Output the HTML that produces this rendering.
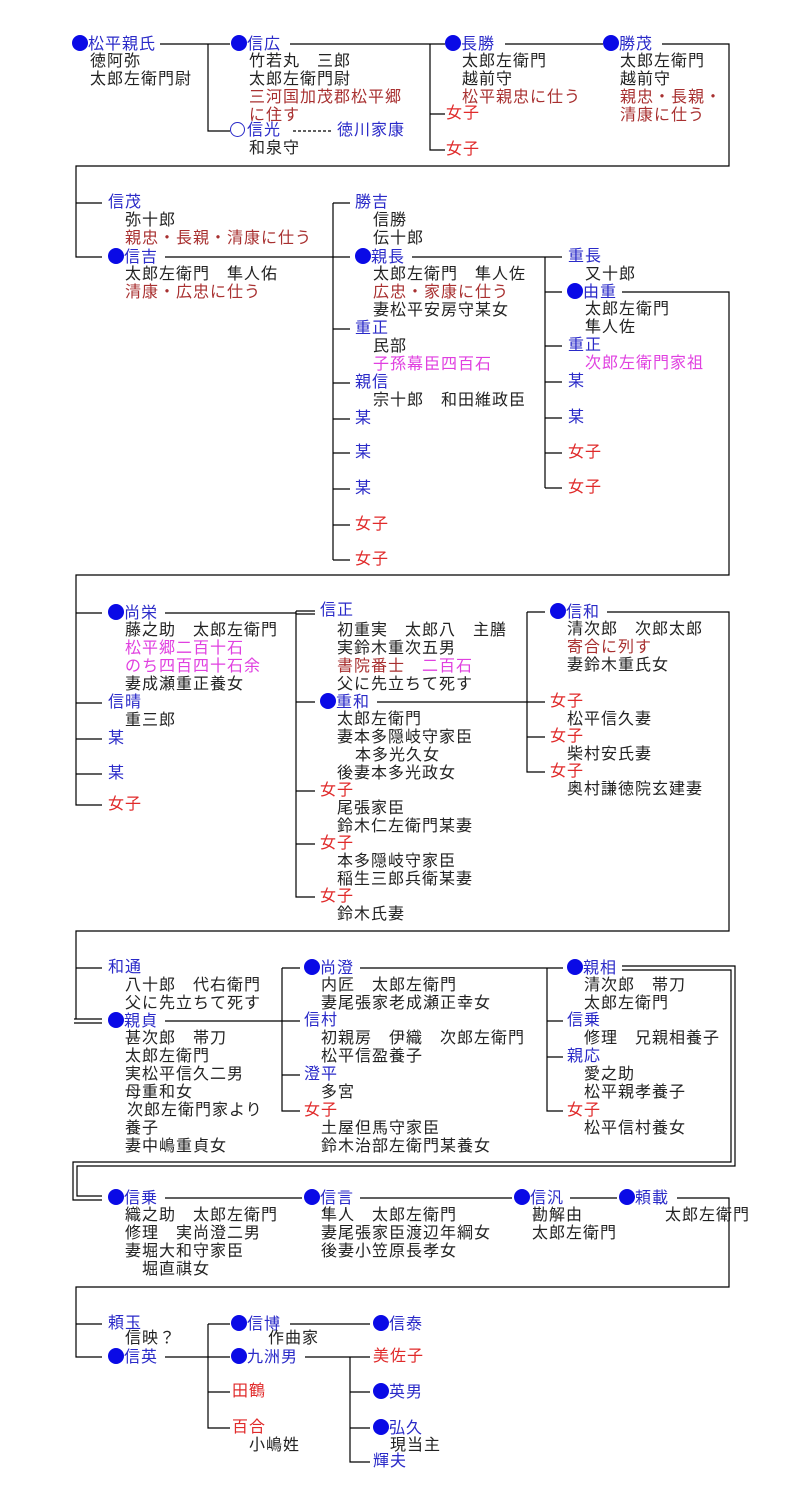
<!DOCTYPE html>
<html><head><meta charset="utf-8">
<style>
body{margin:0;background:#fff;}
#w{position:relative;width:794px;height:1510px;overflow:hidden;font-family:"Liberation Sans","Noto Sans CJK JP",sans-serif;}
.t{position:absolute;font-size:16px;letter-spacing:1px;line-height:18px;white-space:nowrap;color:#222;}
.b{color:#2a2ac8}.r{color:#a83030}.R{color:#e02a2a}.m{color:#e040e0}
.d{display:inline-block;width:16px;height:16px;border-radius:50%;background:#0a0ae6;vertical-align:-2px;margin-right:0px}
.o{display:inline-block;width:13px;height:13px;border-radius:50%;border:1px solid #2a2ac8;vertical-align:-2px;margin-right:2px}
svg{position:absolute;left:0;top:0}
</style></head><body><div id="w">
<svg width="794" height="1510" stroke="#000" stroke-width="1.2" fill="none">
<path d="M160 44H230M208 44V131H230"/>
<path d="M290 44H445M430 44V150H445M430 114H445"/>
<path d="M293 131H333" stroke-dasharray="3,2"/>
<path d="M505 44H603"/>
<path d="M662 44H729V166H76V257H102M76 203H102"/>
<path d="M165 257H350M333 203V560M333 203H350M333 329H350M333 383H350M333 419H350M333 453H350M333 489H350M333 525H350M333 560H350"/>
<path d="M412 257H562M545 257V488M545 292H562M545 346H562M545 382H562M545 418H562M545 453H562M545 488H562"/>
<path d="M622 292H729V575H76V805H102M76 613H102M76 703H102M76 739H102M76 774H102"/>
<path d="M165 613H296M296 611V897H315M296 611H315M296 614H315M296 702H315M296 791H315M296 844H315"/>
<path d="M377 702H545M527 612V772H545M527 612H545M527 737H545"/>
<path d="M607 612H729V931H76V1019M76 968H102"/>
<path d="M74 1019H102M74 1023H102"/>
<path d="M165 1021H300M282 968V1111H300M282 968H300M282 1075H300"/>
<path d="M360 968H563M547 968V1111H563M547 1021H563M547 1057H563"/>
<path d="M622 966H735V1166H77V1196H102"/>
<path d="M622 970H731V1162H73V1200H102"/>
<path d="M165 1198H302M360 1198H512M570 1198H617M677 1198H729V1287H76V1357H102M76 1324H102"/>
<path d="M165 1357H230M208 1324V1428H230M208 1324H230M208 1392H230"/>
<path d="M290 1324H370M305 1357H370M350 1357V1462H370M350 1392H370M350 1428H370"/>
</svg>

<div class="t b" style="left:72px;top:35px"><span class="d"></span>松平親氏</div>
<div class="t" style="left:90px;top:53px">徳阿弥</div>
<div class="t" style="left:90px;top:71px">太郎左衛門尉</div>
<div class="t b" style="left:231px;top:35px"><span class="d"></span>信広</div>
<div class="t" style="left:249px;top:53px">竹若丸　三郎</div>
<div class="t" style="left:249px;top:71px">太郎左衛門尉</div>
<div class="t r" style="left:249px;top:89px">三河国加茂郡松平郷</div>
<div class="t r" style="left:249px;top:107px">に住す</div>
<div class="t b" style="left:230px;top:122px"><span class="o"></span>信光</div>
<div class="t b" style="left:337px;top:122px">徳川家康</div>
<div class="t" style="left:249px;top:140px">和泉守</div>
<div class="t R" style="left:446px;top:105px">女子</div>
<div class="t R" style="left:446px;top:141px">女子</div>
<div class="t b" style="left:445px;top:35px"><span class="d"></span>長勝</div>
<div class="t" style="left:462px;top:53px">太郎左衛門</div>
<div class="t" style="left:462px;top:71px">越前守</div>
<div class="t r" style="left:462px;top:89px">松平親忠に仕う</div>
<div class="t b" style="left:603px;top:35px"><span class="d"></span>勝茂</div>
<div class="t" style="left:620px;top:53px">太郎左衛門</div>
<div class="t" style="left:620px;top:71px">越前守</div>
<div class="t r" style="left:620px;top:89px">親忠・長親・</div>
<div class="t r" style="left:620px;top:107px">清康に仕う</div>

<div class="t b" style="left:108px;top:194px">信茂</div>
<div class="t" style="left:125px;top:212px">弥十郎</div>
<div class="t r" style="left:125px;top:230px">親忠・長親・清康に仕う</div>
<div class="t b" style="left:108px;top:248px"><span class="d"></span>信吉</div>
<div class="t" style="left:125px;top:266px">太郎左衛門　隼人佑</div>
<div class="t r" style="left:125px;top:284px">清康・広忠に仕う</div>

<div class="t b" style="left:355px;top:194px">勝吉</div>
<div class="t" style="left:373px;top:212px">信勝</div>
<div class="t" style="left:373px;top:230px">伝十郎</div>
<div class="t b" style="left:355px;top:248px"><span class="d"></span>親長</div>
<div class="t" style="left:373px;top:266px">太郎左衛門　隼人佐</div>
<div class="t r" style="left:373px;top:284px">広忠・家康に仕う</div>
<div class="t" style="left:373px;top:302px">妻松平安房守某女</div>
<div class="t b" style="left:355px;top:320px">重正</div>
<div class="t" style="left:373px;top:338px">民部</div>
<div class="t m" style="left:373px;top:356px">子孫幕臣四百石</div>
<div class="t b" style="left:355px;top:374px">親信</div>
<div class="t" style="left:373px;top:392px">宗十郎　和田維政臣</div>
<div class="t b" style="left:355px;top:410px">某</div>
<div class="t b" style="left:355px;top:444px">某</div>
<div class="t b" style="left:355px;top:480px">某</div>
<div class="t R" style="left:355px;top:516px">女子</div>
<div class="t R" style="left:355px;top:551px">女子</div>

<div class="t b" style="left:568px;top:248px">重長</div>
<div class="t" style="left:585px;top:266px">又十郎</div>
<div class="t b" style="left:567px;top:283px"><span class="d"></span>由重</div>
<div class="t" style="left:585px;top:301px">太郎左衛門</div>
<div class="t" style="left:585px;top:319px">隼人佐</div>
<div class="t b" style="left:568px;top:337px">重正</div>
<div class="t m" style="left:585px;top:355px">次郎左衛門家祖</div>
<div class="t b" style="left:568px;top:373px">某</div>
<div class="t b" style="left:568px;top:409px">某</div>
<div class="t R" style="left:568px;top:444px">女子</div>
<div class="t R" style="left:568px;top:479px">女子</div>

<div class="t b" style="left:108px;top:604px"><span class="d"></span>尚栄</div>
<div class="t" style="left:125px;top:622px">藤之助　太郎左衛門</div>
<div class="t m" style="left:125px;top:640px">松平郷二百十石</div>
<div class="t m" style="left:125px;top:658px">のち四百四十石余</div>
<div class="t" style="left:125px;top:676px">妻成瀬重正養女</div>
<div class="t b" style="left:108px;top:694px">信晴</div>
<div class="t" style="left:125px;top:712px">重三郎</div>
<div class="t b" style="left:108px;top:730px">某</div>
<div class="t b" style="left:108px;top:765px">某</div>
<div class="t R" style="left:108px;top:796px">女子</div>

<div class="t b" style="left:320px;top:602px">信正</div>
<div class="t" style="left:337px;top:622px">初重実　太郎八　主膳</div>
<div class="t" style="left:337px;top:640px">実鈴木重次五男</div>
<div class="t" style="left:337px;top:658px"><span class="r">書院番士</span>　<span class="m">二百石</span></div>
<div class="t" style="left:337px;top:676px">父に先立ちて死す</div>
<div class="t b" style="left:320px;top:693px"><span class="d"></span>重和</div>
<div class="t" style="left:337px;top:711px">太郎左衛門</div>
<div class="t" style="left:337px;top:729px">妻本多隠岐守家臣</div>
<div class="t" style="left:355px;top:747px">本多光久女</div>
<div class="t" style="left:337px;top:765px">後妻本多光政女</div>
<div class="t R" style="left:320px;top:782px">女子</div>
<div class="t" style="left:337px;top:800px">尾張家臣</div>
<div class="t" style="left:337px;top:818px">鈴木仁左衛門某妻</div>
<div class="t R" style="left:320px;top:835px">女子</div>
<div class="t" style="left:337px;top:853px">本多隠岐守家臣</div>
<div class="t" style="left:337px;top:871px">稲生三郎兵衛某妻</div>
<div class="t R" style="left:320px;top:888px">女子</div>
<div class="t" style="left:337px;top:906px">鈴木氏妻</div>

<div class="t b" style="left:550px;top:603px"><span class="d"></span>信和</div>
<div class="t" style="left:567px;top:621px">清次郎　次郎太郎</div>
<div class="t r" style="left:567px;top:639px">寄合に列す</div>
<div class="t" style="left:567px;top:657px">妻鈴木重氏女</div>
<div class="t R" style="left:550px;top:693px">女子</div>
<div class="t" style="left:567px;top:711px">松平信久妻</div>
<div class="t R" style="left:550px;top:728px">女子</div>
<div class="t" style="left:567px;top:746px">柴村安氏妻</div>
<div class="t R" style="left:550px;top:763px">女子</div>
<div class="t" style="left:567px;top:781px">奥村謙徳院玄建妻</div>

<div class="t b" style="left:108px;top:959px">和通</div>
<div class="t" style="left:125px;top:977px">八十郎　代右衛門</div>
<div class="t" style="left:125px;top:995px">父に先立ちて死す</div>
<div class="t b" style="left:108px;top:1012px"><span class="d"></span>親貞</div>
<div class="t" style="left:125px;top:1030px">甚次郎　帯刀</div>
<div class="t" style="left:125px;top:1048px">太郎左衛門</div>
<div class="t" style="left:125px;top:1066px">実松平信久二男</div>
<div class="t" style="left:125px;top:1084px">母重和女</div>
<div class="t" style="left:127px;top:1102px">次郎左衛門家より</div>
<div class="t" style="left:125px;top:1120px">養子</div>
<div class="t" style="left:125px;top:1138px">妻中嶋重貞女</div>

<div class="t b" style="left:304px;top:959px"><span class="d"></span>尚澄</div>
<div class="t" style="left:321px;top:977px">内匠　太郎左衛門</div>
<div class="t" style="left:321px;top:995px">妻尾張家老成瀬正幸女</div>
<div class="t b" style="left:304px;top:1012px">信村</div>
<div class="t" style="left:321px;top:1030px">初親房　伊織　次郎左衛門</div>
<div class="t" style="left:321px;top:1048px">松平信盈養子</div>
<div class="t b" style="left:304px;top:1066px">澄平</div>
<div class="t" style="left:321px;top:1084px">多宮</div>
<div class="t R" style="left:304px;top:1102px">女子</div>
<div class="t" style="left:321px;top:1120px">土屋但馬守家臣</div>
<div class="t" style="left:321px;top:1138px">鈴木治部左衛門某養女</div>

<div class="t b" style="left:567px;top:959px"><span class="d"></span>親相</div>
<div class="t" style="left:584px;top:977px">清次郎　帯刀</div>
<div class="t" style="left:584px;top:995px">太郎左衛門</div>
<div class="t b" style="left:567px;top:1012px">信乗</div>
<div class="t" style="left:584px;top:1030px">修理　兄親相養子</div>
<div class="t b" style="left:567px;top:1048px">親応</div>
<div class="t" style="left:584px;top:1066px">愛之助</div>
<div class="t" style="left:584px;top:1084px">松平親孝養子</div>
<div class="t R" style="left:567px;top:1102px">女子</div>
<div class="t" style="left:584px;top:1120px">松平信村養女</div>

<div class="t b" style="left:108px;top:1189px"><span class="d"></span>信乗</div>
<div class="t" style="left:125px;top:1207px">織之助　太郎左衛門</div>
<div class="t" style="left:125px;top:1225px">修理　実尚澄二男</div>
<div class="t" style="left:125px;top:1243px">妻堀大和守家臣</div>
<div class="t" style="left:142px;top:1261px">堀直祺女</div>
<div class="t b" style="left:304px;top:1189px"><span class="d"></span>信言</div>
<div class="t" style="left:321px;top:1207px">隼人　太郎左衛門</div>
<div class="t" style="left:321px;top:1225px">妻尾張家臣渡辺年綱女</div>
<div class="t" style="left:321px;top:1243px">後妻小笠原長孝女</div>
<div class="t b" style="left:514px;top:1189px"><span class="d"></span>信汎</div>
<div class="t" style="left:532px;top:1207px">勘解由</div>
<div class="t" style="left:532px;top:1225px">太郎左衛門</div>
<div class="t b" style="left:619px;top:1189px"><span class="d"></span>頼載</div>
<div class="t" style="left:665px;top:1207px">太郎左衛門</div>

<div class="t b" style="left:108px;top:1315px">頼玉</div>
<div class="t" style="left:125px;top:1330px">信映？</div>
<div class="t b" style="left:108px;top:1348px"><span class="d"></span>信英</div>
<div class="t b" style="left:231px;top:1315px"><span class="d"></span>信博</div>
<div class="t" style="left:268px;top:1330px">作曲家</div>
<div class="t b" style="left:231px;top:1348px"><span class="d"></span>九洲男</div>
<div class="t R" style="left:232px;top:1383px">田鶴</div>
<div class="t R" style="left:232px;top:1419px">百合</div>
<div class="t" style="left:249px;top:1437px">小嶋姓</div>
<div class="t b" style="left:373px;top:1315px"><span class="d"></span>信泰</div>
<div class="t R" style="left:373px;top:1348px">美佐子</div>
<div class="t b" style="left:373px;top:1383px"><span class="d"></span>英男</div>
<div class="t b" style="left:373px;top:1419px"><span class="d"></span>弘久</div>
<div class="t" style="left:390px;top:1437px">現当主</div>
<div class="t b" style="left:373px;top:1453px">輝夫</div>
</div></body></html>
